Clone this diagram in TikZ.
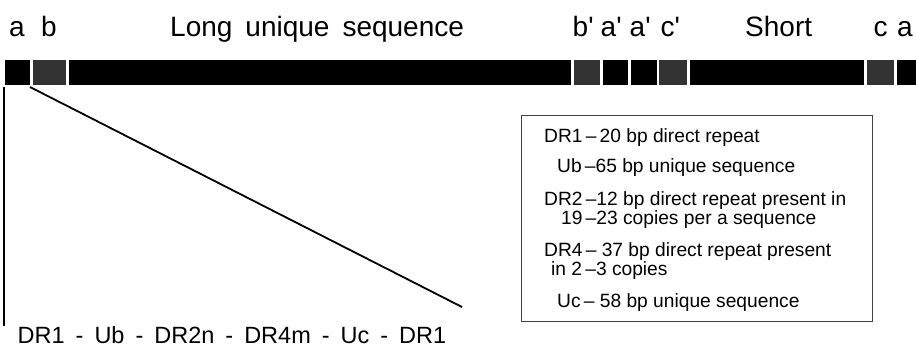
\documentclass[tikz,border=0pt]{standalone}
\usepackage{fontspec}
\setmainfont{Liberation Sans}
\definecolor{segdark}{gray}{0.2}
\newcommand{\pr}{\textquotesingle}
\tikzset{
  seg/.style={inner sep=0pt, outer sep=0pt, minimum height=25pt, anchor=north west, draw=none, fill=black},
  greyseg/.style={seg, fill=segdark},
  toplab/.style={inner sep=0pt, anchor=base west, font=\fontsize{28}{28}\selectfont},
  boxtxt/.style={inner sep=0pt, anchor=base west, font=\fontsize{19.2}{17.5}\selectfont},
  bottxt/.style={inner sep=0pt, anchor=base west, font=\fontsize{23.5}{24}\selectfont},
  zoomline/.style={line width=1.8pt},
}
\begin{document}
\begin{tikzpicture}[x=1pt,y=-1pt]
\useasboundingbox (0,0) rectangle (916,349);
% top labels
\node[toplab] (la) at (9,36.5) {a};
\node[toplab] (lb) at (41,36.5) {b};
\node[toplab] (llong) at (170,36.5) {Long\hspace{13pt}unique\hspace{13pt}sequence};
\node[toplab] (lbp) at (572.5,36.5) {b\pr};
\node[toplab] (lap1) at (600.5,36.5) {a\pr};
\node[toplab] (lap2) at (629.5,36.5) {a\pr};
\node[toplab] (lcp) at (660.5,36.5) {c\pr};
\node[toplab] (lshort) at (745,36.5) {Short};
\node[toplab] (lc) at (873.5,36.5) {c};
\node[toplab] (la2) at (897,36.5) {a};
% genome bar
\node[seg, minimum width=25pt] (sa1) at (5,60) {};
\node[greyseg, minimum width=33pt] (sb) at (33,60) {};
\node[seg, minimum width=502pt] (slong) at (69,60) {};
\node[greyseg, minimum width=26pt] (sbp) at (574,60) {};
\node[seg, minimum width=25pt] (sap1) at (603,60) {};
\node[seg, minimum width=26pt] (sap2) at (631,60) {};
\node[greyseg, minimum width=28pt] (scp) at (659,60) {};
\node[seg, minimum width=174pt] (sshort) at (690,60) {};
\node[greyseg, minimum width=27pt] (sc) at (867,60) {};
\node[seg, minimum width=19pt] (sa2) at (897,60) {};
% expansion lines
\coordinate (vend) at (4,326);
\coordinate (dend) at (462,307);
\draw[zoomline] ([xshift=-1pt,yshift=-2pt]sa1.south west) -- (vend);
\draw[zoomline] ([yshift=-2pt]sa1.south east) -- (dend);
% bottom structure
\node[bottxt] (struct) at (17.5,343.5) {DR1\hspace{11pt}-\hspace{11pt}Ub\hspace{11pt}-\hspace{11pt}DR2n\hspace{11pt}-\hspace{11pt}DR4m\hspace{11pt}-\hspace{11pt}Uc\hspace{11pt}-\hspace{11pt}DR1};
% legend box
\node[draw=black!75, line width=1.1pt, inner sep=0pt, minimum width=351pt, minimum height=206pt, anchor=north west] (legend) at (521,115) {};
\node[boxtxt] (t1) at (544,142.5) {DR1\,–\,20 bp direct repeat};
\node[boxtxt] (t2) at (557,172) {Ub\,–65 bp unique sequence};
\node[boxtxt] (t3) at (544,205) {\begin{tabular}[t]{@{}l@{}}DR2\,–12 bp direct repeat present in\\\hspace*{17pt}19\,–23 copies per a sequence\end{tabular}};
\node[boxtxt] (t5) at (544,256) {\begin{tabular}[t]{@{}l@{}}DR4\,– 37 bp direct repeat present\\\hspace*{7pt}in 2\,–3 copies\end{tabular}};
\node[boxtxt] (t7) at (557,307) {Uc\,– 58 bp unique sequence};
\end{tikzpicture}
\end{document}
